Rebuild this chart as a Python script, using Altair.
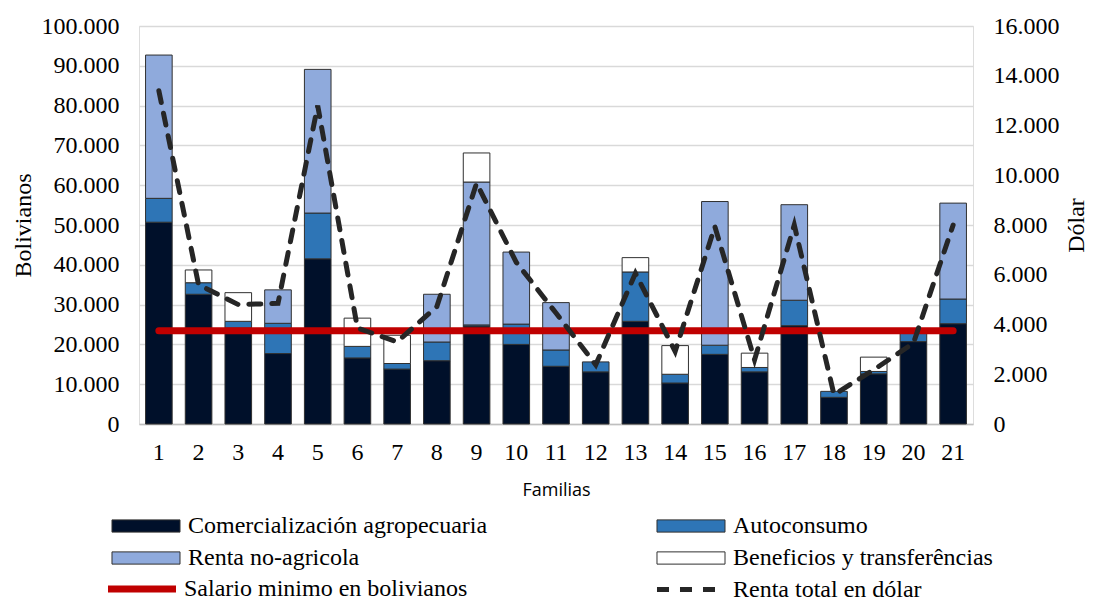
import altair as alt
import pandas as pd

familias = [str(i) for i in range(1, 22)]
componentes = ["Comercialización agropecuaria", "Autoconsumo", "Renta no-agricola", "Beneficios y transferências"]
colores = ["#00102A", "#2E75B6", "#8FAADC", "#FFFFFF"]

comercializacion = [50700, 32600, 24100, 17700, 41500, 16600, 13800, 15900, 24600, 20000, 14500,
                    13100, 25800, 10300, 17500, 13100, 24700, 6700, 12600, 20700, 25200]
autoconsumo = [6000, 2900, 1700, 7600, 11500, 2900, 1400, 4700, 300, 5100, 4100,
               2500, 12400, 2200, 2300, 1100, 6400, 1500, 600, 2300, 6200]
renta_no_agricola = [36000, 0, 0, 8400, 36100, 0, 0, 12000, 35900, 18100, 11900,
                     0, 0, 0, 36100, 0, 24000, 0, 0, 0, 24100]
beneficios = [0, 3200, 7200, 0, 0, 7100, 7100, 0, 7300, 0, 0,
              0, 3600, 7200, 0, 3600, 0, 0, 3600, 0, 0]
renta_dolar = [13400, 5600, 4800, 4850, 12800, 3860, 3300, 4720, 9680, 6500, 4460,
               2380, 6060, 2920, 7940, 2580, 8000, 1180, 2180, 3250, 8000]
SALARIO_MINIMO = 23400

lineas = ["Salario minimo en bolivianos", "Renta total en dólar"]

rows = []
for i, f in enumerate(familias):
    for k, (comp, serie) in enumerate(zip(componentes, [comercializacion, autoconsumo, renta_no_agricola, beneficios])):
        if serie[i] > 0:
            rows.append({"familia": f, "componente": comp, "orden": k, "valor": serie[i]})
bars_df = pd.DataFrame(rows)

sal_df = pd.DataFrame({"familia": familias, "valor": [SALARIO_MINIMO] * len(familias), "serie": lineas[0]})
usd_df = pd.DataFrame({"familia": familias, "valor": renta_dolar, "serie": lineas[1]})

SERIF = "Liberation Serif"
fmt = "replace(format(datum.value, ','), ',', '.')"

x_enc = alt.X("familia:O", sort=familias,
              scale=alt.Scale(paddingInner=0.33, paddingOuter=0.165),
              axis=alt.Axis(title="Familias", labelAngle=0, labelFont=SERIF, labelFontSize=24,
                            labelColor="#000", labelPadding=16, ticks=False, domainColor="#BFBFBF",
                            domainWidth=1.5, titleFont="Open Sans", titleFontSize=18,
                            titleFontWeight="normal", titleColor="#000", titlePadding=17))

# legend order (column-major layout) gives rows: Comercialización/Autoconsumo, Renta/Beneficios
legend_order = [componentes[0], componentes[2], componentes[1], componentes[3]]
color_scale = alt.Scale(domain=legend_order, range=[colores[0], colores[2], colores[1], colores[3]])
wide_rect = "M-3,-0.54H3V0.54H-3Z"
wide_line = "M-3,0H3"

y_left_axis = alt.Axis(title="Bolivianos", values=list(range(0, 100001, 10000)), labelExpr=fmt,
                       labelOverlap=False,
                       labelFont=SERIF, labelFontSize=24, labelColor="#000", labelPadding=20,
                       ticks=False, domain=False, gridColor="#D9D9D9", gridWidth=1.3,
                       titleFont=SERIF, titleFontSize=24, titleFontWeight="normal",
                       titleColor="#000", titleAngle=270, titleX=-116, titleY=199,
                       titleAlign="center", titleBaseline="middle")
y_left_scale = alt.Scale(domain=[0, 100000], nice=False)

bars = alt.Chart(bars_df).mark_bar(stroke="#303030", strokeWidth=1).encode(
    x=x_enc,
    y=alt.Y("valor:Q", stack="zero", scale=y_left_scale, axis=y_left_axis),
    color=alt.Color("componente:N", scale=color_scale,
                    legend=alt.Legend(title=None, orient="none", legendX=-5, legendY=488,
                                      columns=2, columnPadding=166, rowPadding=8,
                                      symbolType=wide_rect, symbolSize=514,
                                      symbolStrokeColor="#303030", symbolStrokeWidth=1,
                                      symbolOpacity=1, labelLimit=600,
                                      labelFont=SERIF, labelFontSize=24, labelColor="#000",
                                      labelOffset=30)),
    order=alt.Order("orden:Q"),
)

line_stroke = alt.Scale(domain=lineas, range=["#C00000", "#262626"])
line_dash = alt.Scale(domain=lineas, range=[[1, 0], [12, 11]])
line_width = alt.Scale(domain=lineas, range=[7, 5])
line_legend = alt.Legend(title=None, orient="none", legendX=-12, legendY=548,
                         columns=2, columnPadding=178, symbolType=wide_line, symbolSize=514,
                         labelLimit=600,
                         labelFont=SERIF, labelFontSize=24, labelColor="#000", labelOffset=27)

salario = alt.Chart(sal_df).mark_line(strokeCap="round").encode(
    x=alt.X("familia:O", sort=familias),
    y=alt.Y("valor:Q", scale=y_left_scale, axis=y_left_axis),
    stroke=alt.Stroke("serie:N", scale=line_stroke, legend=line_legend),
    strokeDash=alt.StrokeDash("serie:N", scale=line_dash, legend=line_legend),
    strokeWidth=alt.StrokeWidth("serie:N", scale=line_width, legend=line_legend),
)

left = alt.layer(bars, salario)

dolar = alt.Chart(usd_df).mark_line(strokeCap="round").encode(
    x=alt.X("familia:O", sort=familias),
    y=alt.Y("valor:Q", scale=alt.Scale(domain=[0, 16000], nice=False),
            axis=alt.Axis(orient="right", title="Dólar", values=list(range(0, 16001, 2000)),
                          labelExpr=fmt, labelFont=SERIF, labelFontSize=24, labelColor="#000",
                          labelPadding=20, ticks=False, domain=False, grid=False,
                          titleFont=SERIF, titleFontSize=24, titleFontWeight="normal",
                          titleColor="#000", titleAngle=270, titleX=103, titleY=199,
                          titleAlign="center", titleBaseline="middle")),
    stroke=alt.Stroke("serie:N", scale=line_stroke, legend=line_legend),
    strokeDash=alt.StrokeDash("serie:N", scale=line_dash, legend=line_legend),
    strokeWidth=alt.StrokeWidth("serie:N", scale=line_width, legend=line_legend),
)

chart = alt.layer(left, dolar).resolve_scale(y="independent").properties(
    width=834, height=398,
    autosize=alt.AutoSizeParams(type="none"),
    padding={"left": 131, "top": 18, "right": 113, "bottom": 175},
).configure_view(stroke=None).configure(background="#FFFFFF").configure_legend(
    labelFont=SERIF, labelFontSize=24, labelColor="#000"
)

chart.save("out.html", embed_options={"renderer": "svg", "actions": False})
